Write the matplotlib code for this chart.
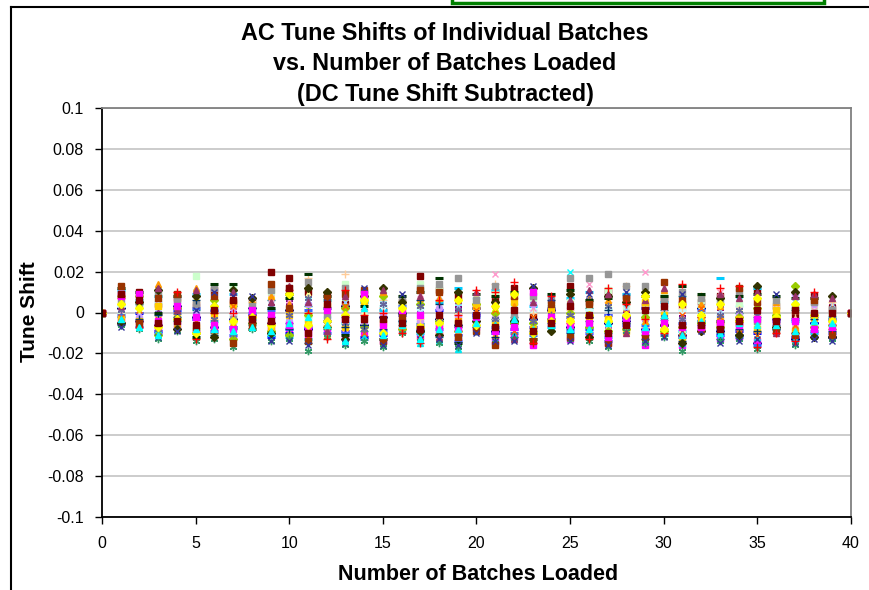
import numpy as np
import matplotlib
matplotlib.use('Agg')
import matplotlib.pyplot as plt
from matplotlib.lines import Line2D
from matplotlib.patches import Rectangle

plt.rcParams['font.family'] = ['Liberation Sans', 'DejaVu Sans']

# number of batches loaded
batches_loaded = list(range(0, 41))

# AC tune shift of each batch, in units of 0.001 (one list per batch series)
batch01 = [0, 2,-4,-6,3,-2,-7,-3,2,-5,1, -8,-4,3,-6,-2,0,-9,-3,-6,2, -9,-5,-3,1,-7,-2,-5,-4,-8,-3, -11,2,-9,-4,-15,-3,-13,-5,-12, 0]
batch02 = [0, -3,-5,-9,-6,-9,-8,-12,-4,-8,-9, -11,-9,-12,-11,-14,-8,-12,-10,-13,-7, -14,-12,-16,-6,-13,-11,-15,-7,-16,-9, -16,-7,-13,-12,-14,-7,-11,-11,-10, 0]
batch03 = [0, 5,-2,-4,2,7,4,-6,3,9,3, 2,-5,7,4,-15,2,5,3,-8,5, 2,6,-3,4,8,-4,4,-6,-2,-8, 3,-3,4,-3,-7,1,4,-3,-5, 0]
batch04 = [0, 1,3,-2,-1,-6,5,-4,-2,-6,-2, 6,3,-3,-3,4,-2,-12,-1,5,-3, -8,2,-1,-3,20,-6,-3,6,9,-2, -6,1,-3,6,-5,-4,6,2,-7, 0]
batch05 = [0, 7,-3,1,-5,3,-2,1,-6,-3,5, -4,0,-6,2,-6,4,1,-7,2,-4, 5,-3,6,-2,-4,3,-8,1,-5,4, -2,-5,2,-6,1,-6,-2,-7,3, 0]
batch06 = [0, 9,10,4,7,3,11,5,6,20,17, 10,9,4,6,2,5,18,11,8,3, 6,12,-2,2,13,5,10,8,3,7, 4,5,8,-5,11,3,-1,8,2, 0]
batch07 = [0, -2,4,-7,-4,1,-10,3,-6,6,-5, 3,-8,-2,-9,-10,-6,-5,-12,0,-6, -3,-2,-9,-5,-8,2,-10,-3,-11,1, 8,-2,-10,0,-2,-6,1,-2,-4, 0]
batch08 = [0, -5,0,-9,1,-3,1,-7,-1,-12,-10, -7,2,-9,-12,-11,-1,-8,1,-11,-1, -10,-8,-7,2,-2,-8,-1,-2,2,-6, -12,-4,-11,-9,-10,-2,-12,-5,-3, 0]
batch09 = [0, 11,6,8,-3,9,-4,9,-3,-11,-12, -13,6,-5,5,1,-4,-10,5,12,-2, 11,-4,3,-7,7,10,-12,9,-9,5, -9,-4,17,-11,12,-8,-4,-10,-2, 0]
batch10 = [0, 3,2,5,-2,-8,2,-1,1,2,-7, -2,-2,1,-1,3,-5,2,-4,-12,7, -4,4,1,3,-11,1,2,-5,-5,-3, 1,3,-1,3,-3,-1,2,-6,-8, 0]
batch11 = [0, -1,7,10,-7,18,-5,12,4,10,8, -3,6,14,7,9,3,14,12,-6,4, 9,-6,7,-1,5,-1,11,3,-1,9, -4,6,6,4,-6,4,-8,3,0, 0]
batch12 = [0, 6,-1,-3,4,-1,-2,7,2,-1,0, 9,1,-4,0,-4,1,-2,-2,-3,8, -1,1,-6,0,-1,4,-7,-1,4,-7, -8,0,-6,2,3,-2,-3,-4,6, 0]
batch13 = [0, -4,1,2,-3,10,7,-9,-4,4,-3, -9,-1,5,-4,5,-3,0,8,3,-2, -6,-1,9,-2,3,-3,-2,2,7,-4, 5,-1,1,-7,6,-5,5,-1,4, 0]
batch14 = [0, 0,-6,6,-8,-5,-6,-2,0,7,6, -6,4,-8,3,-7,6,9,-6,-5,1, 19,3,2,5,-5,14,-6,-7,20,2, -1,-6,10,1,-4,2,-5,1,-1, 0]
batch15 = [0, 10,-2,-5,5,0,3,2,-2,-2,-4, 4,-3,0,-5,-1,-3,-4,2,-2,-5, -2,-7,4,-4,2,-5,-4,-3,-3,3, -3,-3,-2,-1,4,-3,9,4,-5, 0]
batch16 = [0, 4,5,-1,6,5,-3,-5,5,-4,10, 17,-6,19,1,6,-7,-3,-10,0,2, 14,7,0,-6,1,-9,5,13,-7,-5, 2,8,-5,-2,-1,7,0,-3,5, 0]
batch17 = [0, -1,-7,-10,0,2,-9,-11,0,1,-8, 1,-10,-10,-13,-9,3,-6,-8,-14,0, -7,-10,-11,-3,-9,-10,-14,-6,-6,-11, -5,1,-8,-12,-16,-4,-3,-9,-10, 0]
batch18 = [0, -4,-6,-8,-7,-11,-10,-14,-5,-10,-12, -14,-10,-13,-12,-15,-7,-15,-14,-18,-8, -13,-11,-12,-7,-11,-12,-13,-8,-12,-10, -15,-6,-12,-11,-12,-8,-13,-10,-11, 0]
batch19 = [0, 8,8,-11,2,-10,6,-13,-5,-9,-11, -1,-7,2,-7,8,-8,4,-4,-9,4, 0,-5,-5,-3,0,-7,-9,-8,-2,-9, -7,-5,-7,-2,2,-1,13,-7,-6, 0]
batch20 = [0, -3,-4,3,-1,-7,-1,4,-3,-7,-1, -5,3,-7,5,-5,0,-7,-6,-4,3, -5,5,-8,1,-3,-2,-3,-9,5,-1, -12,-3,-4,-3,-8,1,-9,-2,-3, 0]
batch21 = [0, 6,8,14,-5,12,9,-5,6,8,4, -10,-11,10,-2,10,-1,7,7,-10,-3, -11,3,11,-1,-6,7,6,-1,-4,11, -10,4,3,-9,8,5,-7,-2,1, 0]
batch22 = [0, -2,1,-3,-6,-4,-9,3,-7,-3,-6, -12,-5,3,-10,-12,-9,-11,-9,-4,1, 1,-9,-2,-8,4,-11,-11,0,-10,-3, -1,2,-2,-10,-11,-5,-6,-10,-3, 0]
batch23 = [0, 1,-5,-8,-1,-11,-3,-10,-4,3,-1, 7,-2,-5,-8,4,-1,3,-3,1,-6, -3,0,-4,-1,-1,6,3,-4,1,-2, -3,-1,-1,1,-1,-3,3,-8,-1, 0]
batch24 = [0, 5,4,9,6,4,12,-3,3,11,12, 15,-1,12,10,-3,7,12,14,17,6, 13,-2,8,6,17,17,19,13,13,6, 10,7,5,10,-4,6,2,5,1, 0]
batch25 = [0, -6,-3,-1,-2,6,-11,-8,-5,-2,-8, -15,-7,-7,-6,-8,-4,6,4,-7,-7, -12,-12,-10,6,-10,-4,1,-5,-13,-6, -14,-6,-13,-8,-9,-8,-10,-3,-9, 0]
batch26 = [0, -6,-8,-13,-9,-14,-13,-17,-8,-14,-13, -19,-12,-16,-14,-17,-10,-14,-15,-17,-9, -15,-13,-14,-8,-13,-14,-17,-9,-15,-12, -19,-8,-14,-13,-18,-9,-16,-12,-13, 0]
batch27 = [0, 12,10,0,8,-12,14,14,-8,2,7, 19,8,-11,3,-13,8,10,17,-15,9, 8,10,-13,9,11,6,7,-2,8,8, 13,9,-4,8,9,8,7,7,-12, 0]
batch28 = [0, -5,5,11,-8,8,-12,11,7,-10,9, 12,10,-13,8,12,5,-9,-11,10,-4, 5,-4,12,-9,9,-12,8,5,10,-6, -15,-9,7,-11,13,-7,10,-12,8, 0]
batch29 = [0, 13,-5,7,9,-9,8,-15,-6,14,2, -14,7,9,11,-14,-2,11,10,-12,-9, -16,8,-14,4,-12,4,-15,7,-12,15, 6,-8,-6,12,5,-9,-11,6,-11, 0]
batch30 = [0, 3,7,12,1,11,-5,10,-3,5,13, 5,-9,8,-3,11,-5,8,-12,6,10, 4,-13,5,-5,6,11,9,-10,6,12, -10,-7,9,7,10,-10,8,9,7, 0]
batch31 = [0, -7,6,-12,-9,1,10,8,8,-14,-14, -16,5,-15,12,-16,9,-13,-13,-16,-10, -14,-14,13,7,-14,9,-16,10,-14,-12, 9,-9,-15,-14,-13,9,-15,-13,-14, 0]
batch32 = [0, 7,-7,-6,10,-13,0,0,-1,-5,11, 0,-13,11,-1,0,-10,-15,6,-1,11, 10,15,-15,8,-5,-13,12,4,-3,-10, 14,-2,12,13,-17,-10,-14,10,-8, 0]
batch33 = [0, 8,9,-4,3,-2,-6,-8,1,-1,-6, -8,1,-3,9,-6,1,-1,-7,-8,-2, -9,-7,10,-2,-6,-5,-12,-3,-9,-5, -7,-7,-5,-6,-3,-4,-4,-8,-7, 0]
batch34 = [0, 4,2,-7,-3,-10,3,-4,-2,-6,9, -6,-4,-1,6,-10,2,-7,-5,6,-6, 3,9,-10,-4,-4,-1,-4,-1,8,-8, 4,-1,4,-4,7,-2,4,-1,-4, 0]
batch35 = [0, -3,-7,-11,-4,-8,-8,-9,-7,-9,-5, -2,-6,-14,2,-11,-6,-13,-8,-8,-5, -6,-3,-8,-6,-8,-8,-5,-6,-7,-1, -11,-4,-10,-5,-6,-6,-9,-4,-5, 0]
batch36 = [0, 9,6,-5,-4,-6,1,6,-3,-4,12, -10,4,-3,-3,-3,-5,-8,-1,-5,-1, -7,1,-9,-5,3,-1,-10,-6,1,3, -6,-6,-8,-4,1,-4,1,0,0, 0]

series = [batch01, batch02, batch03, batch04, batch05, batch06, batch07, batch08, batch09,
          batch10, batch11, batch12, batch13, batch14, batch15, batch16, batch17, batch18,
          batch19, batch20, batch21, batch22, batch23, batch24, batch25, batch26, batch27,
          batch28, batch29, batch30, batch31, batch32, batch33, batch34, batch35, batch36]

# excel-like series styles
star = (6, 2, 0)
styles = [
    ('#000080', 'D'), ('#FF00FF', 's'), ('#FFFF00', '^'), ('#00FFFF', 'x'),
    ('#800080', star), ('#800000', 's'), ('#008080', '+'), ('#0000FF', '_'),
    ('#00CCFF', '_'), ('#CCFFFF', 'D'), ('#CCFFCC', 's'), ('#FFFF99', '^'),
    ('#99CCFF', 'x'), ('#FF99CC', 'x'), ('#CC99FF', 'o'), ('#FFCC99', '+'),
    ('#3366FF', '_'), ('#00E5EE', '^'), ('#99CC00', 'D'), ('#FFCC00', 's'),
    ('#FF9900', '^'), ('#FF6600', 'x'), ('#666699', star), ('#969696', 's'),
    ('#003366', '+'), ('#339966', star), ('#003300', '_'), ('#333300', 'D'),
    ('#993300', 's'), ('#993366', '^'), ('#333399', 'x'), ('#FF0000', '+'),
    ('#FF00FF', 's'), ('#FFFF00', 'D'), ('#00FFFF', '^'), ('#800000', 's'),
]
msize = {'D': 4.5, 's': 4.3, '^': 5.0, 'x': 4.3, '+': 5.3, '_': 5.3, 'o': 4.4}

fig = plt.figure(figsize=(8.7, 5.9), dpi=100)

# outer chart frame and the green box at the top
fig.add_artist(Line2D([11/870, 11/870], [0, 1-7/590], color='black', lw=1.5))
fig.add_artist(Line2D([11/870, 1], [1-7/590, 1-7/590], color='black', lw=1.5))
fig.add_artist(Rectangle((452/870, 1-3/590), 372/870, 6/590, facecolor='white',
                         edgecolor='#008000', lw=2.5))

ax = fig.add_axes([102/870, 1-517/590, 749/870, 409/590])

for vals, (col, mk) in zip(series, styles):
    y = np.array(vals) / 1000.0
    if mk == star:
        ms, mew = 5.3, 1.0
    else:
        ms, mew = msize[mk], 1.0
    if mk == '_':
        mew = 2.2
    ax.plot(batches_loaded, y, linestyle='none', marker=mk, color=col,
            markersize=ms, markeredgewidth=mew, markeredgecolor=col)

ax.set_xlim(0, 40)
ax.set_ylim(-0.1, 0.1)
ax.set_xticks(range(0, 41, 5))
yt = np.round(np.arange(-0.1, 0.1001, 0.02), 2)
ax.set_yticks(yt)
ax.set_yticklabels(['%g' % v for v in yt])
ax.yaxis.grid(True, color='#c8c8c8', lw=1.3)
ax.set_axisbelow(True)

for s in ['left', 'bottom']:
    ax.spines[s].set_color('black')
    ax.spines[s].set_linewidth(1.3)
for s in ['top', 'right']:
    ax.spines[s].set_color('#808080')
    ax.spines[s].set_linewidth(1.3)

ax.tick_params(direction='out', length=5, width=1, labelsize=11.5, colors='black')
ax.tick_params(axis='x', pad=9)
ax.tick_params(axis='y', pad=8)

fig.text(445/870, 1-64/590, 'AC Tune Shifts of Individual Batches\nvs. Number of Batches Loaded\n(DC Tune Shift Subtracted)',
         ha='center', va='center', fontsize=16.8, fontweight='bold', linespacing=1.42)
fig.text(478/870, 1-575/590, 'Number of Batches Loaded', ha='center', va='center',
         fontsize=15.5, fontweight='bold')
fig.text(30/870, 1-312/590, 'Tune Shift', ha='center', va='center', rotation=90,
         fontsize=15, fontweight='bold')

fig.savefig('out.png', dpi=100)
